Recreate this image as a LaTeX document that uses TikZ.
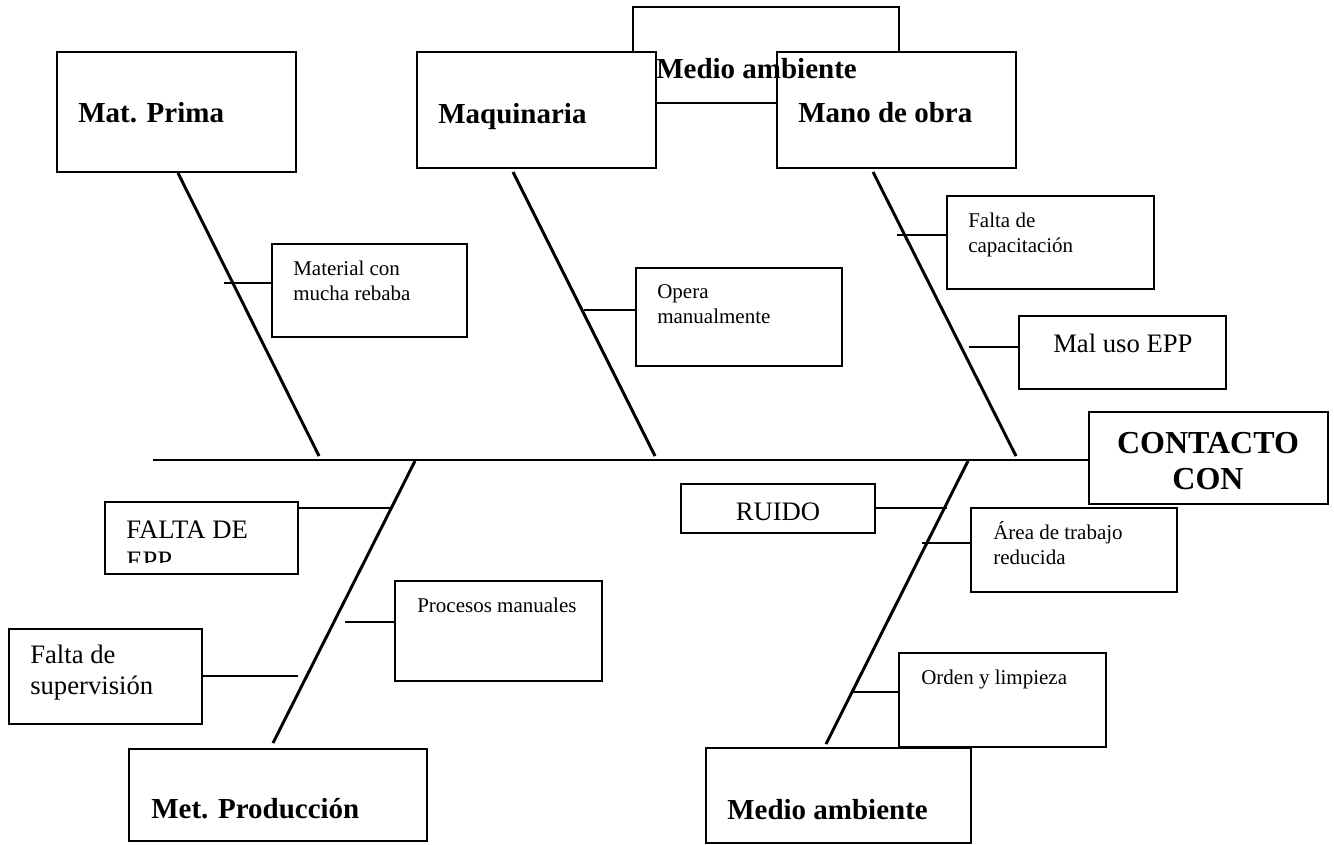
\documentclass[tikz,border=0pt]{standalone}
\usepackage{fontspec}
\setmainfont{Liberation Serif}
% left-aligned and centred multi-line labels; the baseline is that of the first line
\newcommand\stackl[2]{\vtop{\baselineskip=#1\lineskiplimit=-30pt\halign{##\hfil\cr#2\crcr}}}
\newcommand\stackc[2]{\vtop{\baselineskip=#1\lineskiplimit=-30pt\halign{\hfil##\hfil\cr#2\crcr}}}
% a rectangle given by its corners (x1,y1) and (x2,y2), in pixel units
\newcommand\cbox[5]{\node[cbox, minimum width={(#4-#2)*0.75pt}, minimum height={(#5-#3)*0.75pt}, anchor=north west] (#1) at (#2,#3) {};}
\tikzset{
  bone/.style={line width=2.2pt},
  cbox/.style={draw, line width=2.2pt, fill=white, rectangle, inner sep=0pt, outer sep=0pt},
  lblhead/.style={font=\fontsize{21.75}{26}\selectfont\bfseries, inner sep=0pt, anchor=base west},
  lblmid/.style={font=\fontsize{20}{23.25}\selectfont, inner sep=0pt, anchor=base west},
  lblsmall/.style={font=\fontsize{15.75}{18.75}\selectfont, inner sep=0pt, anchor=base west},
}
\begin{document}
\begin{tikzpicture}[x=0.75pt, y=-0.75pt]
\useasboundingbox (0,0) rectangle (1334,845);

% ---- effect box and spine
\cbox{contacto}{1089}{412}{1328}{504}
\coordinate (spineL) at (153,460);
\draw[bone] (spineL) -- (spineL -| contacto.west);

% ---- main bones
\coordinate (mpA) at (178,173);  \coordinate (mpB) at (319,456);
\coordinate (mqA) at (513,172);  \coordinate (mqB) at (655,456);
\coordinate (moA) at (873,172);  \coordinate (moB) at (1016,456);
\coordinate (meA) at (415,461);  \coordinate (meB) at (273,743);
\coordinate (maA) at (968,461);  \coordinate (maB) at (826,744);
\draw[bone] (mpA) -- (mpB);
\draw[bone] (mqA) -- (mqB);
\draw[bone] (moA) -- (moB);
\draw[bone] (meA) -- (meB);
\draw[bone] (maA) -- (maB);

% ---- category boxes
\cbox{medtop}{633}{7}{899}{103}
\cbox{matprima}{57}{52}{296}{172}
\cbox{maquinaria}{417}{52}{656}{168}
\cbox{manoobra}{777}{52}{1016}{168}
\cbox{metprod}{129}{749}{427}{841}
\cbox{medbot}{706}{748}{971}{843}

% ---- cause boxes
\cbox{material}{272}{244}{467}{337}
\cbox{opera}{636}{268}{842}{366}
\cbox{faltacap}{947}{196}{1154}{289}
\cbox{maluso}{1019}{316}{1226}{389}
\cbox{ruido}{681}{484}{875}{533}
\cbox{area}{971}{508}{1177}{592}
\cbox{faltaepp}{105}{502}{298}{574}
\cbox{procesos}{395}{581}{602}{681}
\cbox{faltasup}{9}{629}{202}{724}
\cbox{orden}{899}{653}{1106}{747}

% ---- cause connectors
\coordinate (cMat) at (224,283);
\coordinate (cOpe) at (584,310);
\coordinate (cCap) at (897,235);
\coordinate (cMal) at (969,347);
\coordinate (cRui) at (947,508);
\coordinate (cAre) at (922,543);
\coordinate (cEpp) at (393,508);
\coordinate (cPro) at (345,622);
\coordinate (cSup) at (298,676);
\coordinate (cOrd) at (852,692);
\draw[bone] (cMat) -- (cMat -| material.west);
\draw[bone] (cOpe) -- (cOpe -| opera.west);
\draw[bone] (cCap) -- (cCap -| faltacap.west);
\draw[bone] (cMal) -- (cMal -| maluso.west);
\draw[bone] (cRui) -- (cRui -| ruido.east);
\draw[bone] (cAre) -- (cAre -| area.west);
\draw[bone] (cEpp) -- (cEpp -| faltaepp.east);
\draw[bone] (cPro) -- (cPro -| procesos.west);
\draw[bone] (cSup) -- (cSup -| faltasup.east);
\draw[bone] (cOrd) -- (cOrd -| orden.west);

% ---- labels
\node[lblhead] (tMatprima) at (78,123) {Mat. Prima};
\node[lblhead] (tMaquinaria) at (438,124) {Maquinaria};
\node[lblhead] (tMedtop) at (656,79) {Medio ambiente};
\node[lblhead] (tManoobra) at (798,123) {Mano de obra};
\node[lblhead] (tMetprod) at (151,818) {Met. Producción};
\node[lblhead] (tMedbot) at (727,819) {Medio ambiente};
\node[font=\fontsize{24}{27}\selectfont\bfseries, inner sep=0pt, anchor=base] (tContacto) at (1208,453) {\stackc{27pt}{CONTACTO\cr CON}};

\node[lblsmall] (tMaterial) at (293,275) {\stackl{18.75pt}{Material con\cr mucha rebaba}};
\node[lblsmall] (tOpera) at (657,298) {\stackl{18.75pt}{Opera\cr manualmente}};
\node[lblsmall] (tCap) at (968,227) {\stackl{18.75pt}{Falta de\cr capacitación}};
\node[lblsmall] (tArea) at (993,539) {\stackl{18.75pt}{Área de trabajo\cr reducida}};
\node[lblsmall] (tProc) at (417,612) {Procesos manuales};
\node[lblsmall] (tOrden) at (921,684) {Orden y limpieza};

\node[lblmid] (tMal) at (1053,352) {Mal uso EPP};
\node[lblmid, anchor=base] (tRuido) at (778,520) {RUIDO};
\node[lblmid] (tSup) at (30,663) {\stackl{23.25pt}{Falta de\cr supervisión}};
\begin{scope}
  \clip (106,503) rectangle (297,562);
  \node[lblmid] (tEpp) at (126,538) {\stackl{23.25pt}{FALTA DE\cr EPP}};
\end{scope}
\end{tikzpicture}
\end{document}
